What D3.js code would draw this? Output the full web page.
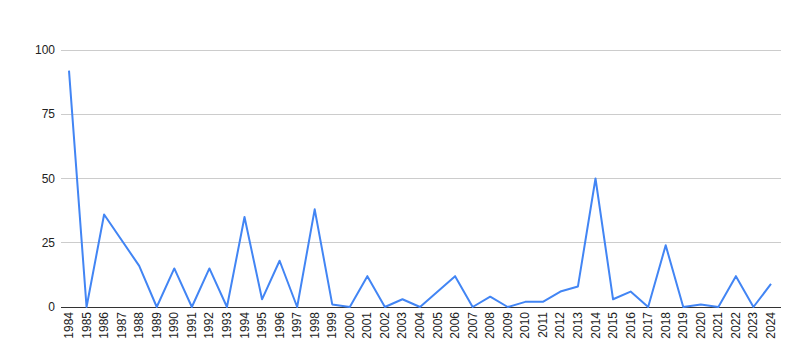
<!DOCTYPE html>
<html><head><meta charset="utf-8">
<script src="https://cdn.jsdelivr.net/npm/d3@7"></script>
<style>body{margin:0;background:#fff;}svg{display:block;font-family:"Liberation Sans",Arial,sans-serif;}</style>
</head><body>
<svg id="c" width="800" height="360"></svg>
<script>
const years = d3.range(1984, 2025);
const values = [92,0,36,null,16,0,15,0,15,0,35,3,18,0,38,1,0,12,0,3,0,null,12,0,4,0,2,2,6,8,50,3,6,0,24,0,1,0,12,0,9];
const yTicks = [0,25,50,75,100];

const svg = d3.select("#c");
const x = d3.scalePoint().domain(years).range([69, 771]);
const y = d3.scaleLinear().domain([0,100]).range([307, 50]);

svg.append("g").selectAll("line").data(yTicks.filter(d=>d>0)).join("line")
  .attr("x1",61).attr("x2",781).attr("y1",d=>y(d)).attr("y2",d=>y(d))
  .attr("stroke","#cccccc").attr("stroke-width",1).attr("shape-rendering","crispEdges");

svg.append("g").selectAll("text").data(yTicks).join("text")
  .attr("x",55).attr("y",d=>y(d)+4).attr("text-anchor","end")
  .attr("font-size",12).attr("fill","#222").text(d=>d);

svg.append("line").attr("x1",61).attr("x2",781).attr("y1",y(0)).attr("y2",y(0))
  .attr("stroke","#333").attr("stroke-width",1).attr("shape-rendering","crispEdges");

svg.append("g").selectAll("text").data(years).join("text")
  .attr("transform",d=>`translate(${x(d)+4},312) rotate(-90)`)
  .attr("text-anchor","end").attr("font-size",12).attr("fill","#222").text(d=>d);

const pts = years.map((yr,i)=>({yr, v: values[i]})).filter(d=>d.v!==null);
svg.append("path").datum(pts)
  .attr("d", d3.line().x(d=>x(d.yr)).y(d=>y(d.v)))
  .attr("fill","none").attr("stroke","#4285F4").attr("stroke-width",2).attr("stroke-linejoin","round");
</script>
</body></html>
